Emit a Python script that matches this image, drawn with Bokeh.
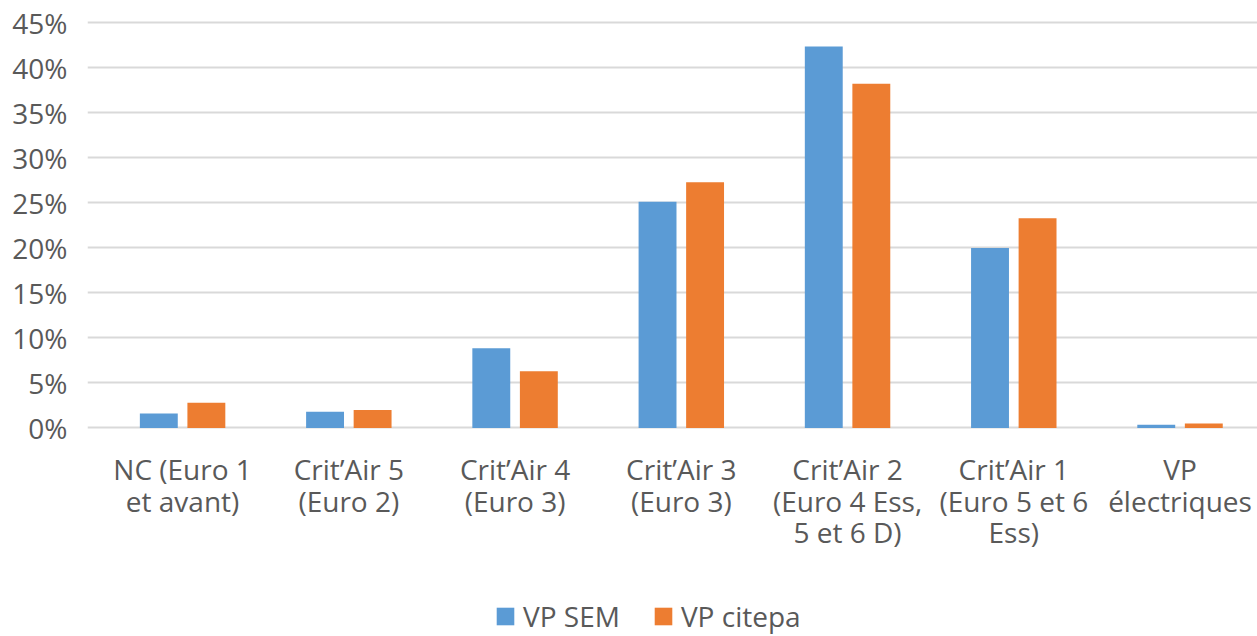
from bokeh.plotting import figure
from bokeh.models import (ColumnDataSource, Range1d, FixedTicker, PrintfTickFormatter,
                          Legend, LegendItem)
from bokeh.core.properties import value
from bokeh.transform import dodge
from bokeh.embed import file_html
from bokeh.resources import INLINE

categories = ["NC (Euro 1\net avant)", "Crit\u2019Air 5\n(Euro 2)", "Crit\u2019Air 4\n(Euro 3)",
              "Crit\u2019Air 3\n(Euro 3)", "Crit\u2019Air 2\n(Euro 4 Ess,\n5 et 6 D)",
              "Crit\u2019Air 1\n(Euro 5 et 6\nEss)", "VP\n\u00e9lectriques"]
vp_sem = [1.6, 1.8, 8.85, 25.15, 42.4, 20.0, 0.35]
vp_citepa = [2.8, 2.0, 6.3, 27.3, 38.25, 23.3, 0.5]
series_names = ["VP SEM", "VP citepa"]
y_ticks = [0, 5, 10, 15, 20, 25, 30, 35, 40, 45]

FONT = "Open Sans"
TXT = "#595959"
BLUE = "#5B9BD5"
ORANGE = "#ED7D31"

xs = [i + 0.5 for i in range(len(categories))]
src = ColumnDataSource(dict(x=xs, sem=vp_sem, citepa=vp_citepa, cat=categories,
                            base=[0] * len(xs)))

p = figure(width=1257, height=636, output_backend="svg", toolbar_location=None,
           x_range=Range1d(-0.072, 6.966), y_range=Range1d(-23.167, 45.5),
           min_border_left=87, min_border_right=0, min_border_top=18, min_border_bottom=0)
p.outline_line_color = None
p.background_fill_color = "white"
p.border_fill_color = "white"

p.ygrid.ticker = FixedTicker(ticks=y_ticks)
p.ygrid.grid_line_color = "#D9D9D9"
p.ygrid.grid_line_width = 2
p.xgrid.grid_line_color = None

r1 = p.vbar(x=dodge("x", -0.143, range=p.x_range), top="sem", width=0.228, bottom=0,
            source=src, fill_color=BLUE, line_color=None)
r2 = p.vbar(x=dodge("x", 0.143, range=p.x_range), top="citepa", width=0.228, bottom=0,
            source=src, fill_color=ORANGE, line_color=None)

# category labels below the baseline
p.text(x="x", y="base", text="cat", source=src, y_offset=22,
       text_align="center", text_baseline="top",
       text_font=value(FONT), text_font_size="28px", text_color=TXT,
       text_line_height=0.83)

p.xaxis.visible = False

p.yaxis.ticker = FixedTicker(ticks=y_ticks)
p.yaxis.formatter = PrintfTickFormatter(format="%d%%")
p.yaxis.axis_line_color = None
p.yaxis.major_tick_line_color = None
p.yaxis.minor_tick_line_color = None
p.yaxis.major_tick_out = 0
p.yaxis.major_label_standoff = 20
p.yaxis.major_label_text_font = FONT
p.yaxis.major_label_text_font_size = "28px"
p.yaxis.major_label_text_color = TXT

legend = Legend(items=[LegendItem(label=series_names[0], renderers=[r1]),
                       LegendItem(label=series_names[1], renderers=[r2])],
                orientation="horizontal", location=(407, 1),
                glyph_width=22, glyph_height=22, label_standoff=7, spacing=32,
                padding=0, margin=0, border_line_color=None, background_fill_alpha=0,
                label_text_font=FONT, label_text_font_size="28px", label_text_color=TXT)
p.add_layout(legend, "center")

open("out.html", "w").write(file_html(p, INLINE))
